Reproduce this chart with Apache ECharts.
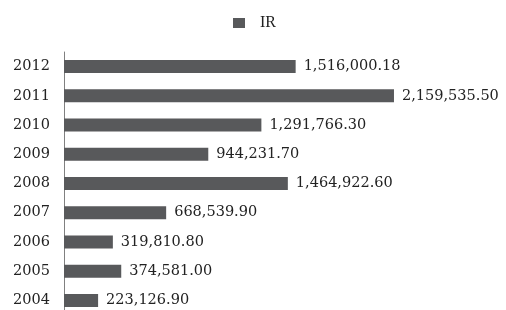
<!DOCTYPE html>
<html>
<head>
<meta charset="utf-8">
<script src="https://cdn.jsdelivr.net/npm/echarts@6/dist/echarts.min.js"></script>
<style>
  html, body { margin: 0; padding: 0; background: #fff; overflow: hidden; }
  /* slightly taller than the window: the reference crops the bottom row */
  #chart { width: 506px; height: 318px; }
</style>
</head>
<body>
<div id="chart"></div>
<script>
// categories bottom -> top (category axis draws first item at bottom)
var years = ['2004', '2005', '2006', '2007', '2008', '2009', '2010', '2011', '2012']
var irValues = [223126.90, 374581.00, 319810.80, 668539.90, 1464922.60, 944231.70, 1291766.30, 2159535.50, 1516000.18]

var chart = echarts.init(document.getElementById('chart'))

function fmt(v) {
  return v.toLocaleString('en-US', { minimumFractionDigits: 2, maximumFractionDigits: 2 })
}

chart.setOption({
  animation: false,
  textStyle: {
    fontFamily: 'DejaVu Serif'
  },
  legend: {
    data: [{ name: 'IR', icon: 'rect' }],
    top: 15,
    left: 233,
    padding: 0,
    itemWidth: 12,
    itemHeight: 10,
    textStyle: {
      fontSize: 16,
      color: '#222',
      fontFamily: 'Liberation Serif',
      padding: [0, 0, 0, 10]
    }
  },
  grid: {
    left: 64,
    width: 382,
    top: 52,
    height: 263,
    containLabel: false
  },
  xAxis: {
    type: 'value',
    min: 0,
    max: 2500000,
    show: false
  },
  yAxis: {
    type: 'category',
    data: years,
    axisLine: { show: true, lineStyle: { color: '#808080', width: 1 } },
    axisTick: { show: false },
    axisLabel: {
      margin: 14,
      fontSize: 14.5,
      color: '#222',
      fontFamily: 'DejaVu Serif'
    }
  },
  series: [
    {
      name: 'IR',
      type: 'bar',
      data: irValues,
      barWidth: 13,
      itemStyle: { color: '#58595b' },
      label: {
        show: true,
        position: 'right',
        distance: 8,
        fontSize: 14.5,
        color: '#222',
        fontFamily: 'DejaVu Serif',
        formatter: function (p) { return fmt(p.value) }
      }
    }
  ]
})
</script>
</body>
</html>
